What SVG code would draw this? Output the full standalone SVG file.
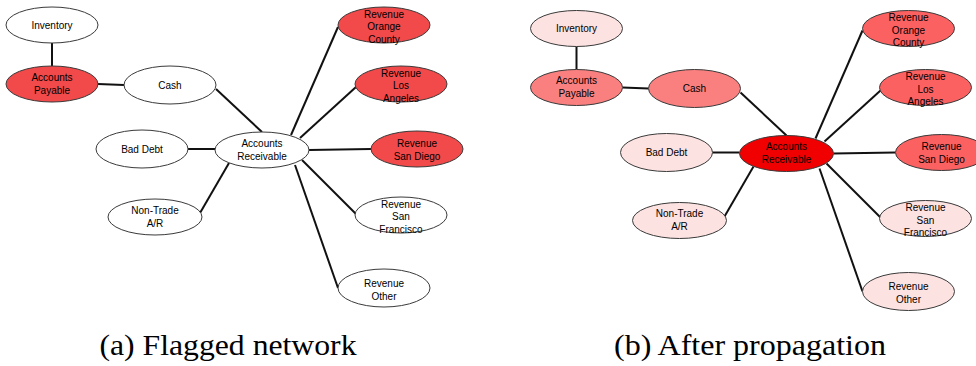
<svg xmlns="http://www.w3.org/2000/svg" width="976" height="366" viewBox="0 0 976 366">
  <style>
    .node ellipse { stroke: #3a3a3a; stroke-width: 1; }
    .node text { font-family: 'Liberation Sans', Arial, sans-serif; font-size: 10px; fill: #000; text-anchor: middle; }
    .edges line { stroke: #111; stroke-width: 2; }
    .white { fill: #ffffff; }
    .flag { fill: #f24a4a; }
    .pink { fill: #fde2e2; }
    .mid { fill: #fa8080; }
    .rev { fill: #fc6161; }
    .hot { fill: #f00000; }
    .caption { font-family: 'Liberation Serif', 'Times New Roman', Times, serif; font-size: 30px; fill: #000; text-anchor: middle; }
  </style>

  <!-- (a) flagged network -->
  <g id="panel-a">
    <g class="edges" id="edges-a">
      <line x1="52" y1="43" x2="52" y2="66"/>
      <line x1="98" y1="84" x2="124" y2="85"/>
      <line x1="216" y1="89" x2="262" y2="132"/>
      <line x1="188" y1="149" x2="215" y2="149"/>
      <line x1="200" y1="213" x2="229" y2="163"/>
      <line x1="291" y1="135" x2="338" y2="27"/>
      <line x1="300" y1="138" x2="356" y2="87"/>
      <line x1="309" y1="150" x2="371" y2="149"/>
      <line x1="302" y1="160" x2="356" y2="214"/>
      <line x1="295" y1="165" x2="338" y2="288"/>
    </g>
    <g class="node" id="a-inventory"><ellipse class="white" cx="52" cy="25" rx="46" ry="18"/><text x="52" y="28.5">Inventory</text></g>
    <g class="node" id="a-payable"><ellipse class="flag" cx="52" cy="84" rx="46" ry="18"/><text x="52" y="80.5">Accounts</text><text x="52" y="93.5">Payable</text></g>
    <g class="node" id="a-cash"><ellipse class="white" cx="170" cy="85" rx="46" ry="19"/><text x="170" y="88.5">Cash</text></g>
    <g class="node" id="a-baddebt"><ellipse class="white" cx="142" cy="149" rx="46" ry="19"/><text x="142" y="152.5">Bad Debt</text></g>
    <g class="node" id="a-receivable"><ellipse class="white" cx="262" cy="150" rx="47" ry="18"/><text x="262" y="146.5">Accounts</text><text x="262" y="159.5">Receivable</text></g>
    <g class="node" id="a-nontrade"><ellipse class="white" cx="155" cy="217" rx="47" ry="18"/><text x="155" y="213.5">Non-Trade</text><text x="155" y="226.5">A/R</text></g>
    <g class="node" id="a-rev-oc"><ellipse class="flag" cx="384" cy="25" rx="46" ry="18"/><text x="384" y="17.5">Revenue</text><text x="384" y="30">Orange</text><text x="384" y="42.5">County</text></g>
    <g class="node" id="a-rev-la"><ellipse class="flag" cx="401" cy="84" rx="46" ry="18"/><text x="401" y="76.5">Revenue</text><text x="401" y="89">Los</text><text x="401" y="101.5">Angeles</text></g>
    <g class="node" id="a-rev-sd"><ellipse class="flag" cx="417" cy="149" rx="46" ry="18"/><text x="417" y="146.5">Revenue</text><text x="417" y="159.5">San Diego</text></g>
    <g class="node" id="a-rev-sf"><ellipse class="white" cx="401" cy="215" rx="46" ry="18"/><text x="401" y="207.5">Revenue</text><text x="401" y="220">San</text><text x="401" y="232.5">Francisco</text></g>
    <g class="node" id="a-rev-other"><ellipse class="white" cx="384" cy="288" rx="46" ry="19"/><text x="384" y="286.5">Revenue</text><text x="384" y="299.5">Other</text></g>
  </g>

  <!-- (b) after propagation -->
  <g id="panel-b" transform="translate(524.5,3.5)">
    <g class="edges" id="edges-b">
      <line x1="52" y1="43" x2="52" y2="66"/>
      <line x1="98" y1="84" x2="124" y2="85"/>
      <line x1="216" y1="89" x2="262" y2="132"/>
      <line x1="188" y1="149" x2="215" y2="149"/>
      <line x1="200" y1="213" x2="229" y2="163"/>
      <line x1="291" y1="135" x2="338" y2="27"/>
      <line x1="300" y1="138" x2="356" y2="87"/>
      <line x1="309" y1="150" x2="371" y2="149"/>
      <line x1="302" y1="160" x2="356" y2="214"/>
      <line x1="295" y1="165" x2="338" y2="288"/>
    </g>
    <g class="node" id="b-inventory"><ellipse class="pink" cx="52" cy="25" rx="46" ry="18"/><text x="52" y="28.5">Inventory</text></g>
    <g class="node" id="b-payable"><ellipse class="mid" cx="52" cy="84" rx="46" ry="18"/><text x="52" y="80.5">Accounts</text><text x="52" y="93.5">Payable</text></g>
    <g class="node" id="b-cash"><ellipse class="mid" cx="170" cy="85" rx="46" ry="19"/><text x="170" y="88.5">Cash</text></g>
    <g class="node" id="b-baddebt"><ellipse class="pink" cx="142" cy="149" rx="46" ry="19"/><text x="142" y="152.5">Bad Debt</text></g>
    <g class="node" id="b-receivable"><ellipse class="hot" cx="262" cy="150" rx="47" ry="18"/><text x="262" y="146.5">Accounts</text><text x="262" y="159.5">Receivable</text></g>
    <g class="node" id="b-nontrade"><ellipse class="pink" cx="155" cy="217" rx="47" ry="18"/><text x="155" y="213.5">Non-Trade</text><text x="155" y="226.5">A/R</text></g>
    <g class="node" id="b-rev-oc"><ellipse class="rev" cx="384" cy="25" rx="46" ry="18"/><text x="384" y="17.5">Revenue</text><text x="384" y="30">Orange</text><text x="384" y="42.5">County</text></g>
    <g class="node" id="b-rev-la"><ellipse class="rev" cx="401" cy="84" rx="46" ry="18"/><text x="401" y="76.5">Revenue</text><text x="401" y="89">Los</text><text x="401" y="101.5">Angeles</text></g>
    <g class="node" id="b-rev-sd"><ellipse class="rev" cx="417" cy="149" rx="46" ry="18"/><text x="417" y="146.5">Revenue</text><text x="417" y="159.5">San Diego</text></g>
    <g class="node" id="b-rev-sf"><ellipse class="pink" cx="401" cy="215" rx="46" ry="18"/><text x="401" y="207.5">Revenue</text><text x="401" y="220">San</text><text x="401" y="232.5">Francisco</text></g>
    <g class="node" id="b-rev-other"><ellipse class="pink" cx="384" cy="288" rx="46" ry="19"/><text x="384" y="286.5">Revenue</text><text x="384" y="299.5">Other</text></g>
  </g>

  <text class="caption" x="228" y="355" textLength="257" lengthAdjust="spacingAndGlyphs">(a) Flagged network</text>
  <text class="caption" x="750" y="355" textLength="272" lengthAdjust="spacingAndGlyphs">(b) After propagation</text>
</svg>
